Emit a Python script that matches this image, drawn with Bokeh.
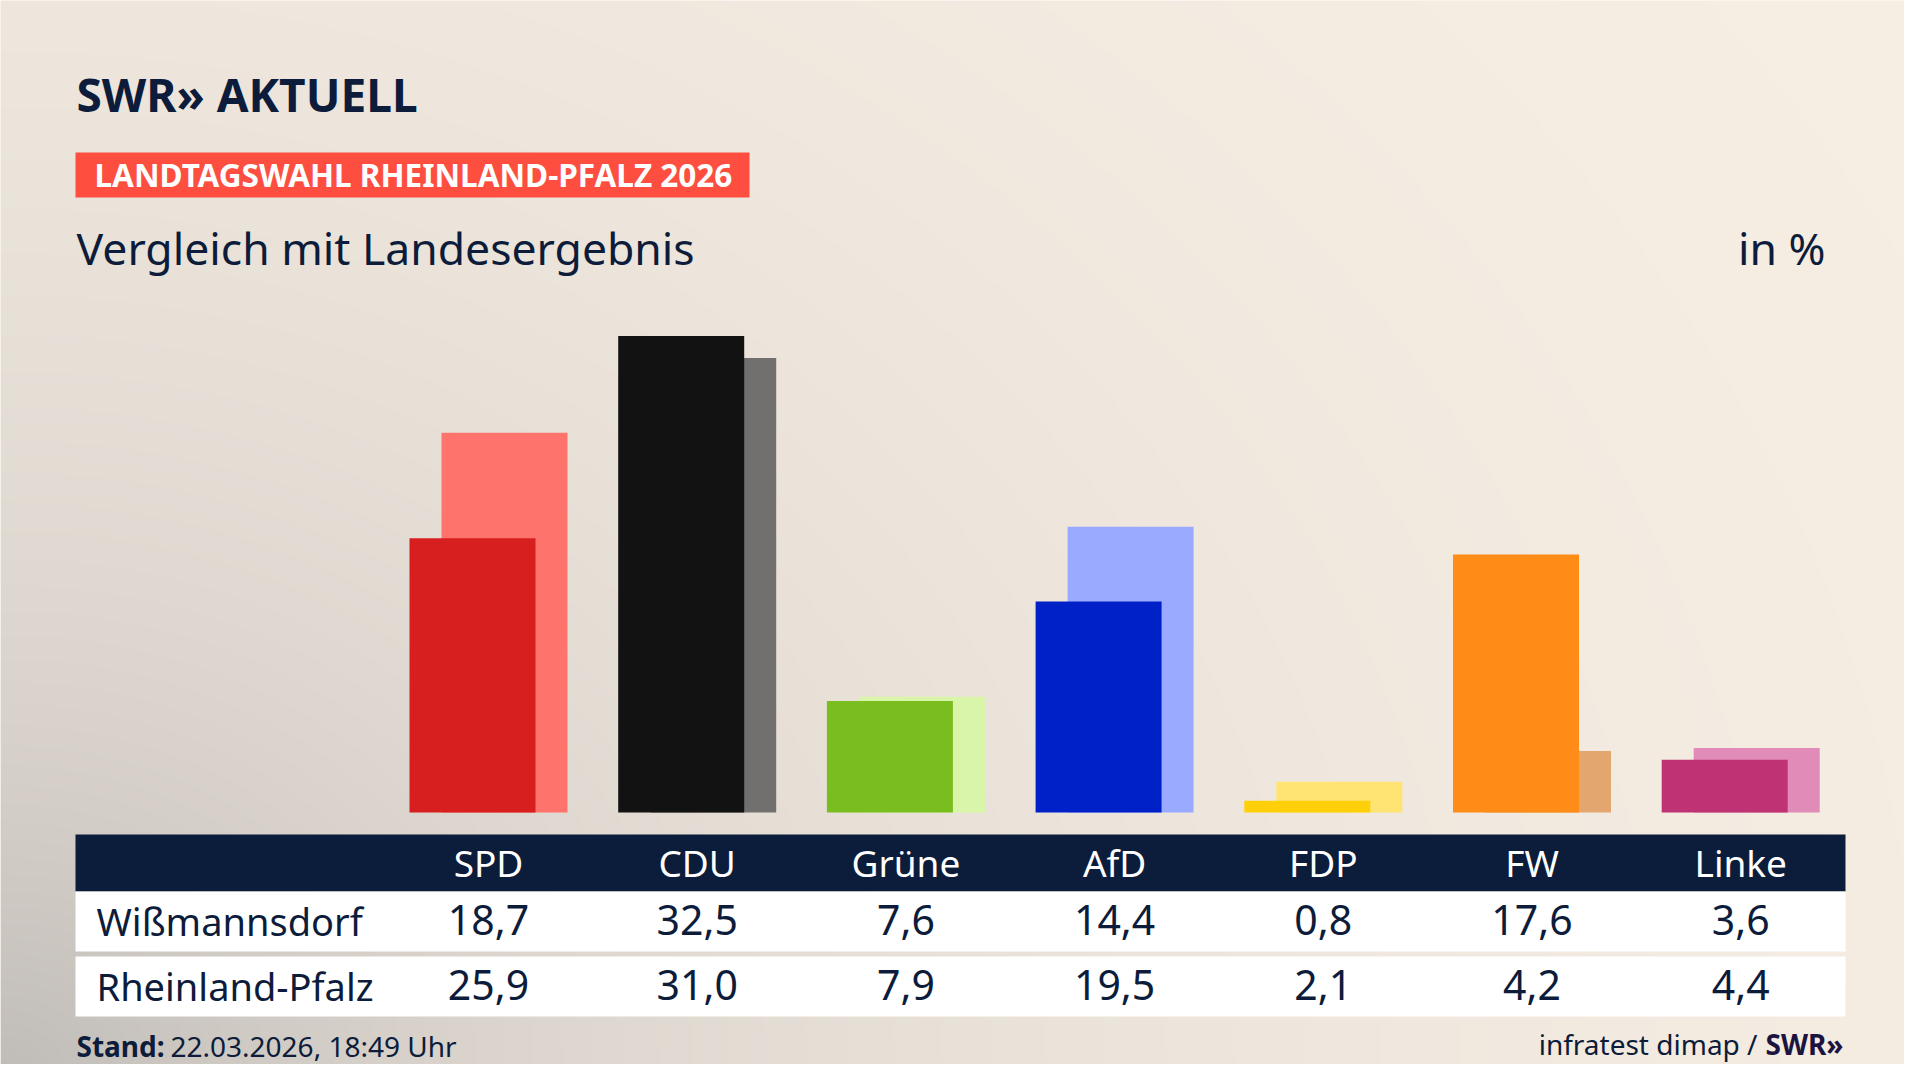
import numpy as np
from bokeh.plotting import figure
from bokeh.models import Range1d, ColumnDataSource
from bokeh.core.properties import value
from bokeh.embed import file_html
from bokeh.resources import INLINE

# ---------------- data ----------------
parties = ["SPD", "CDU", "Grüne", "AfD", "FDP", "FW", "Linke"]
wissmannsdorf = [18.7, 32.5, 7.6, 14.4, 0.8, 17.6, 3.6]
rheinland_pfalz = [25.9, 31.0, 7.9, 19.5, 2.1, 4.2, 4.4]
colors_local = ["#d71f1f", "#121212", "#7abd1e", "#0021c8", "#ffcf0a", "#ff8c17", "#bf3274"]
colors_state = ["#ff736d", "#72706e", "#d9f5a9", "#9aabff", "#ffe473", "#e2a66e", "#e08bb8"]
row_labels = ["Wißmannsdorf", "Rheinland-Pfalz"]

title = "Vergleich mit Landesergebnis"
banner = "LANDTAGSWAHL RHEINLAND-PFALZ 2026"
unit = "in %"

# ---------------- layout (screen px, 1920x1080 reference) ----------------
H = 1080
W_FIG, H_FIG = 1904, 1064
NAVY = "#0c1c3a"
CREAM = (250, 241, 230)
GREY = (181, 178, 175)
FONT = value("Noto Sans")
BASE_SHIFT = 0.35   # empirical correction of the svg text baseline (in em)

BASE_Y = 812.0      # screen y of 0 %
PX_PER_PCT = 14.66
X0 = 488.0          # screen x of first category centre
STEP = 208.7        # px between categories
BAR_W = 126.0
OFF = 16.0

p = figure(width=W_FIG, height=H_FIG,
           x_range=Range1d(0, W_FIG), y_range=Range1d(H - H_FIG, H),
           output_backend="svg", toolbar_location=None, tools="",
           x_axis_location=None, y_axis_location=None, min_border=0)
p.grid.visible = False
p.outline_line_color = None
p.background_fill_color = "#faf1e6"
p.border_fill_color = "#faf1e6"

# category / percent scales mapped onto the frame
p.extra_x_ranges = {"cat": Range1d(start=(0 - X0) / STEP, end=(W_FIG - X0) / STEP)}
p.extra_y_ranges = {"pct": Range1d(start=(BASE_Y - H_FIG) / PX_PER_PCT,
                                   end=BASE_Y / PX_PER_PCT)}

# ---------------- background gradient ----------------
nx, ny = 476, 266
xs = (np.arange(nx) + 0.5) * W_FIG / nx
ys_screen = H_FIG - (np.arange(ny) + 0.5) * H_FIG / ny   # row 0 = bottom
XX, YY = np.meshgrid(xs, ys_screen)
d = np.sqrt((XX / 1.2) ** 2 + (H - YY) ** 2)
f = 0.85 * np.exp(-d / 650.0)
img = np.empty((ny, nx), dtype=np.uint32)
view = img.view(dtype=np.uint8).reshape((ny, nx, 4))
for c in range(3):
    view[:, :, c] = np.clip(CREAM[c] * (1 - f) + GREY[c] * f, 0, 255).astype(np.uint8)
view[:, :, 3] = 255
p.image_rgba(image=[img], x=0, y=H - H_FIG, dw=W_FIG, dh=H_FIG)


def ty(sy, size):
    return H - (sy - BASE_SHIFT * size)


def txt(x, sy, s, size, color=NAVY, bold=False, align="left"):
    p.text(x=[x], y=[ty(sy, size)], text=[s], text_font=FONT, text_font_size=f"{size}px",
           text_font_style="bold" if bold else "normal", text_color=color,
           text_align=align, text_baseline="alphabetic")


# ---------------- header ----------------
txt(76, 110, "SWR» AKTUELL", 46, bold=True)
p.quad(left=[75], right=[749], top=[H - 152], bottom=[H - 197], fill_color="#fd4e3f", line_color=None)
txt(94, 185, banner, 31.5, color="white", bold=True)
txt(76, 263, title, 44.5)
txt(1825, 263, unit, 44.5, align="right")

# ---------------- bars ----------------
idx = np.arange(len(parties))
src_state = ColumnDataSource(dict(x=idx + OFF / STEP, top=rheinland_pfalz, c=colors_state))
src_local = ColumnDataSource(dict(x=idx - OFF / STEP, top=wissmannsdorf, c=colors_local))
p.vbar(x="x", top="top", bottom=0, width=BAR_W / STEP, fill_color="c", line_color=None,
       source=src_state, x_range_name="cat", y_range_name="pct")
p.vbar(x="x", top="top", bottom=0, width=BAR_W / STEP, fill_color="c", line_color=None,
       source=src_local, x_range_name="cat", y_range_name="pct")

# ---------------- table ----------------
p.quad(left=[75], right=[1845], top=[H - 834], bottom=[H - 891], fill_color="#0b1d3b", line_color=None)
p.quad(left=[75, 75], right=[1845, 1845], top=[H - 891, H - 956], bottom=[H - 951, H - 1016],
       fill_color="white", line_color=None)

p.text(x=idx, y=[ty(875, 37)] * len(parties), text=parties, x_range_name="cat",
       text_font=FONT, text_font_size="37px", text_color="white",
       text_align="center", text_baseline="alphabetic")

row_base = [934, 999]
for label, vals, sy in zip(row_labels, [wissmannsdorf, rheinland_pfalz], row_base):
    txt(96, sy, label, 38)
    p.text(x=idx, y=[ty(sy, 41)] * len(vals), text=[f"{v:.1f}".replace(".", ",") for v in vals],
           x_range_name="cat", text_font=FONT, text_font_size="41px", text_color=NAVY,
           text_align="center", text_baseline="alphabetic")

# ---------------- footer ----------------
txt(76, 1055, "Stand:", 28, bold=True)
txt(170, 1055, "22.03.2026, 18:49 Uhr", 28)
txt(1757, 1053, "infratest dimap /", 28, align="right")
txt(1765, 1053, "SWR»", 28, color="#1c1440", bold=True)

open("out.html", "w").write(file_html(p, INLINE))
